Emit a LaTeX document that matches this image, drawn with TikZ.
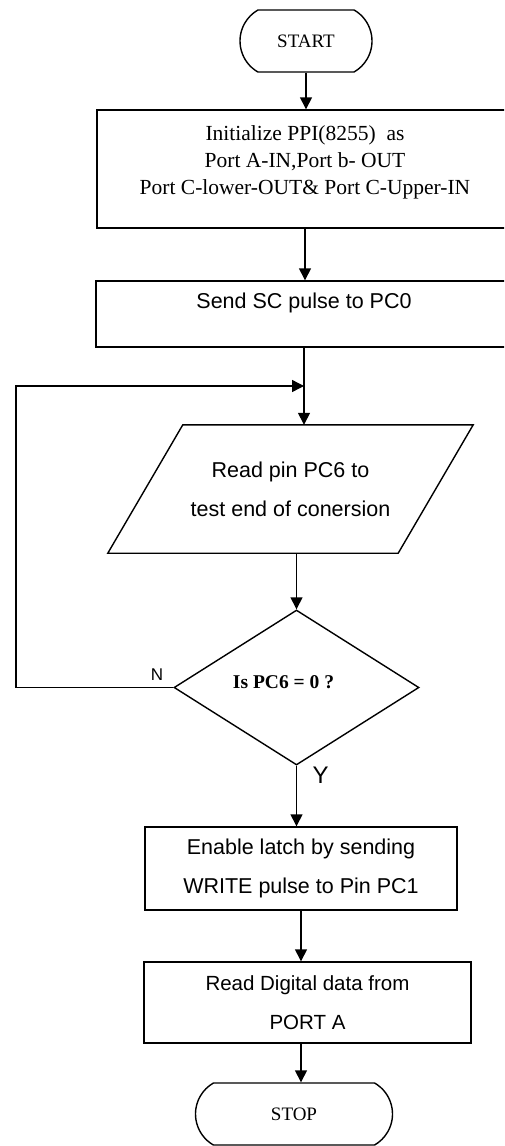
\documentclass[tikz,border=0pt]{standalone}
\usepackage{fontspec}
\setmainfont{Liberation Serif}
\newfontfamily\arialf{Liberation Sans}
\usetikzlibrary{shapes.geometric,shapes.misc,arrows.meta}
\begin{document}
\begin{tikzpicture}[x=1pt,y=-1pt,
  flow/.style={draw, line width=1.4pt, inner sep=0pt, align=center},
  boxnode/.style={flow, rectangle},
  term/.style={flow, rounded rectangle, rounded rectangle arc length=120, font=\fontsize{19}{22}\selectfont},
  sansbig/.style={font=\arialf\fontsize{21.5}{39}\selectfont},
  arr/.style={line width=1.4pt, -{Triangle[length=12pt,width=12pt]}},
  lbl/.style={font=\arialf\fontsize{17}{20}\selectfont, inner sep=0pt}]
\useasboundingbox (0,0) rectangle (504,1146);
\fill[white] (0,0) rectangle (504,1146);
\clip (0,0) rectangle (504,1146);

\node[term, minimum width=132pt, minimum height=62pt] (start) at (306,41) {START};
\node[boxnode, minimum width=416pt, minimum height=118pt, text depth=18.6pt,
      font=\fontsize{21.5}{27}\selectfont] (init) at (305,169)
      {Initialize PPI(8255)~~as\\Port A-IN,Port b- OUT\\Port C-lower-OUT\& Port C-Upper-IN};
\node[boxnode, minimum width=416pt, minimum height=66pt, text depth=26pt,
      font=\arialf\fontsize{21.5}{26}\selectfont] (sc) at (304,314) {Send SC pulse to PC0};
% parallelogram (input/output)
\node[rectangle, inner sep=0pt, align=center, minimum width=290pt, minimum height=128pt, sansbig]
      (rd) at (290.5,489) {Read pin PC6 to\\test end of conersion};
\draw[line width=1.4pt, line join=miter]
      ([xshift=37.5pt]rd.north west) -- ([xshift=37.5pt]rd.north east)
      -- ([xshift=-37.5pt]rd.south east) -- ([xshift=-37.5pt]rd.south west) -- cycle;
\node[flow, diamond, minimum width=245pt, minimum height=155pt, text depth=10.7pt,
      font=\bfseries\fontsize{19.5}{23}\selectfont] (dec) at (296.5,687.5) {Is PC6 = 0 ?\hspace*{26pt}};
\node[boxnode, minimum width=312pt, minimum height=83pt, sansbig] (latch) at (301,868.5)
      {Enable latch by sending\\WRITE pulse to Pin PC1};
\node[boxnode, minimum width=327pt, minimum height=81pt,
      font=\arialf\fontsize{20.5}{39}\selectfont] (rdd) at (307.5,1002.5)
      {Read Digital data from\\PORT A};
\node[term, minimum width=197pt, minimum height=62pt] (stop) at (294,1114) {STOP};

\node[lbl] (nl) at (157,675) {N};
\node[lbl, font=\arialf\fontsize{24}{26}\selectfont] (yl) at (320.5,775) {Y};

\coordinate (jy) at (0,386);
\coordinate (j) at (sc.south |- jy);
\coordinate (lc) at (16,386);

\draw[arr] (start.south) -- (start.south |- init.north);
\draw[arr] (init.south) -- (init.south |- sc.north);
\draw[arr] (sc.south) -- (sc.south |- rd.north);
\draw[arr] (dec.west) -| (lc) -- (j);
\draw[arr] (dec.north |- rd.south) -- (dec.north);
\draw[arr] (dec.south) -- (dec.south |- latch.north);
\draw[arr] (latch.south) -- (latch.south |- rdd.north);
\draw[arr] (rdd.south -| latch.south) -- (latch.south |- stop.north);
\end{tikzpicture}
\end{document}
